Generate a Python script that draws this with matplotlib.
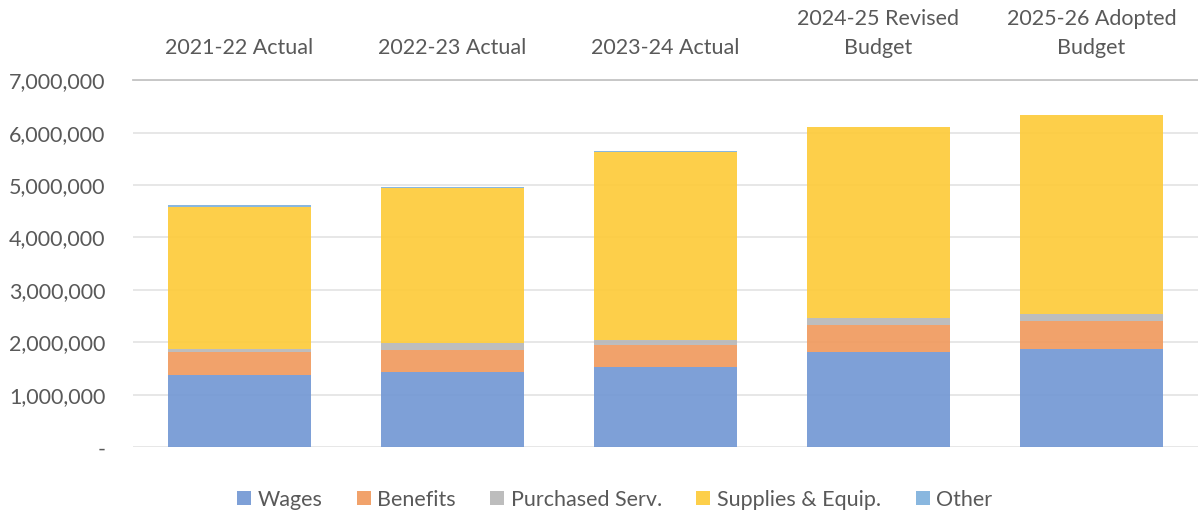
import matplotlib.pyplot as plt
import numpy as np
from matplotlib.ticker import FuncFormatter

# values
years = ["2021-22 Actual", "2022-23 Actual", "2023-24 Actual",
         "2024-25 Revised\nBudget", "2025-26 Adopted\nBudget"]
wages = [1380000, 1430000, 1520000, 1810000, 1875000]
benefits = [430000, 430000, 425000, 525000, 540000]
purchased = [70000, 120000, 100000, 120000, 125000]
supplies = [2710000, 2960000, 3590000, 3650000, 3790000]
other = [20000, 20000, 10000, 10000, 10000]

series = [("Wages", wages, "#7398d4"),
          ("Benefits", benefits, "#f09a5e"),
          ("Purchased Serv.", purchased, "#b8b8b8"),
          ("Supplies & Equip.", supplies, "#fdcb3a"),
          ("Other", other, "#7fb1dd")]

plt.rcParams['font.family'] = ['Lato', 'DejaVu Sans']
txt = "#595959"

fig = plt.figure(figsize=(11.98, 5.14), dpi=100)
ax = fig.add_axes([0.111, 0.130, 0.889, 0.714])

x = np.arange(len(years))
bottom = np.zeros(len(years))
for name, vals, col in series:
    ax.bar(x, vals, 0.67, bottom=bottom, color=col, alpha=0.92, label=name, zorder=2)
    bottom += np.array(vals)

ax.set_ylim(0, 7000000)
ax.set_xlim(-0.5, len(years) - 0.5)
ax.set_yticks(np.arange(0, 7000001, 1000000))
ax.yaxis.set_major_formatter(FuncFormatter(lambda v, p: "-" if v == 0 else f"{int(v):,}"))
ax.grid(axis='y', color="#e3e3e3", linewidth=1.2, zorder=0)
ax.set_axisbelow(True)

ax.xaxis.tick_top()
ax.set_xticks(x)
ax.set_xticklabels(years)
ax.tick_params(axis='x', length=0, pad=16, labelsize=15.5, labelcolor=txt)
ax.tick_params(axis='y', length=0, pad=20, labelsize=15.5, labelcolor=txt)
for lbl in ax.get_xticklabels():
    lbl.set_linespacing(1.55)

for s in ["left", "right", "bottom"]:
    ax.spines[s].set_visible(False)
ax.spines["top"].set_color("#c4c4c4")
ax.spines["top"].set_linewidth(1.3)

handles, labels = ax.get_legend_handles_labels()
fig.legend(handles, labels, loc="center", bbox_to_anchor=(0.513, 0.028), ncol=5,
           frameon=False, fontsize=15.5, labelcolor=txt, handlelength=0.65, handleheight=0.65,
           handletextpad=0.3, columnspacing=1.6)

plt.savefig("out.png", dpi=100)
